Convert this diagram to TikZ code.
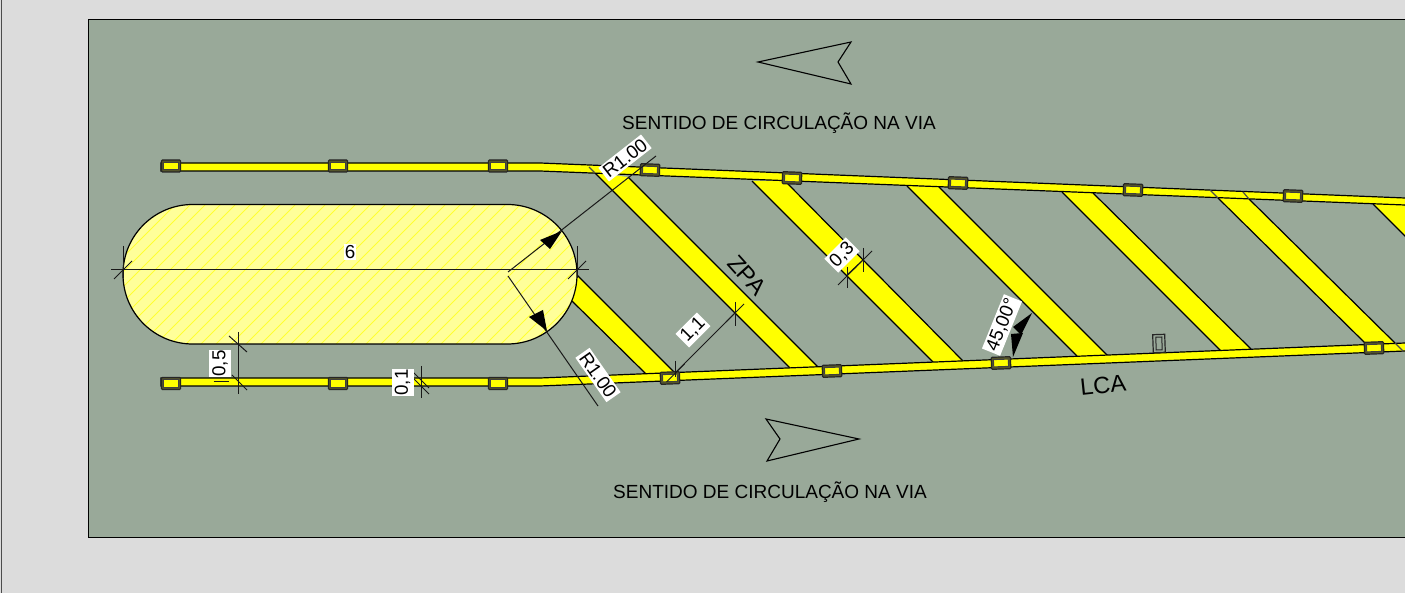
\documentclass[tikz,border=0pt]{standalone}
\usepackage{fontspec}
\setmainfont{Liberation Sans}
\definecolor{pagegray}{HTML}{DCDCDC}
\definecolor{roadgreen}{HTML}{99A999}
\definecolor{paleyellow}{HTML}{FFFF99}
\definecolor{hatchyellow}{HTML}{FFFF33}
\definecolor{pureyellow}{RGB}{255,255,0}
\definecolor{studdark}{HTML}{55552A}
\tikzset{
  dimline/.style={draw=black!90,line width=0.5pt},
  edgeline/.style={draw=black,line width=0.6pt},
  dimlabel/.style={fill=white,inner sep=1pt,font=\fontsize{9.4}{10}\selectfont,text=black},
  roadtext/.style={font=\fontsize{9.5}{11}\selectfont,text=black},
  bigtext/.style={font=\fontsize{11.8}{13}\selectfont,text=black},
  studout/.style={draw=black!85,line width=0.6pt,fill=studdark,minimum width=9.6pt,minimum height=6pt,inner sep=0pt,rounded corners=0.5pt},
  studin/.style={draw=black!75,line width=0.45pt,fill=pureyellow,minimum width=7.4pt,minimum height=3.6pt,inner sep=0pt},
  headfill/.style={fill=black,draw=none},
  outlinearrow/.style={draw=black,line width=0.55pt},
}
\newcommand{\paintstripe}[4]{%
  \fill[pureyellow] (#1) -- (#2) -- (#3) -- (#4) -- cycle;
  \draw[edgeline] (#1) -- (#4);
  \draw[edgeline] (#2) -- (#3);
}
\newcommand{\tickmark}[5]{% point, vertical half extents, slash half
  \draw[dimline] (#1,#2-#3) -- (#1,#2+#4);
  \draw[dimline] (#1-#5,#2+#5) -- (#1+#5,#2-#5);
}
\begin{document}
\begin{tikzpicture}[x=0.5pt,y=-0.5pt]
\useasboundingbox (0,0) rectangle (1405,593);
\clip (0,0) rectangle (1405,593);
\fill[pagegray] (0,0) rectangle (1405,593);
\draw[draw=black!70,line width=0.6pt] (1.2,-2) -- (1.2,595);
\draw[fill=roadgreen,draw=black,line width=0.6pt] (88.5,19.5) rectangle (1415,537.5);

% stripes
\paintstripe{577,275}{572,301}{646,374}{675,373}
\paintstripe{628,177}{595,173}{790,368}{820,369}
\paintstripe{785,181}{752,181}{933,362}{963,361}
\paintstripe{939,187}{907,186}{1077,356}{1108,356}
\paintstripe{1093,193}{1062,192}{1221,351}{1251,349}
\paintstripe{1249,199}{1218,198}{1365,343}{1395,343}
\paintstripe{1405,205}{1373,204}{1415,246}{1445,245}

% bands
\draw[edgeline,fill=pureyellow] (161,163) -- (540,163) -- (1415,198.4) -- (1415,205.4) -- (540,171) -- (161,171) -- cycle;
\draw[edgeline,fill=pureyellow] (161,378) -- (540,378) -- (1415,342.6) -- (1415,350.6) -- (540,386) -- (161,386) -- cycle;
\draw[edgeline,draw=black!70] (1210,190) -- (1218,198);
\draw[edgeline,draw=black!70] (1243,192) -- (1249,199);
\draw[edgeline,draw=black!70] (1395,343) -- (1403,351);
\draw[edgeline,draw=black!70] (595,173) -- (589,167);

% studs
\foreach \n/\px/\py/\ang in {a/171/166/0,b/338/166/0,c/498/166/0,d/650/170/-2,e/792/178/-2,f/958/183/-2,g/1133/190/-2,h/1293/196/-2,
  i/171/383.5/0,j/338/383.5/0,k/498/383.5/0,l/670/378/2,m/832/371/2,n/1001/363/2,o/1374/348/2}{
  \node[studout,rotate=\ang] (so\n) at (\px,\py) {};
  \node[studin,rotate=\ang] (si\n) at (\px,\py) {};
}
\node[draw=black!85,line width=0.6pt,minimum width=6pt,minimum height=9pt,inner sep=0pt,fill=roadgreen,rotate=2] (loosea) at (1159,343.5) {};
\node[draw=black!85,line width=0.5pt,minimum width=3pt,minimum height=6.4pt,inner sep=0pt,rotate=2] (looseb) at (1159,343.5) {};

% island
\fill[paleyellow,rounded corners=34.8pt] (123,204.5) rectangle (577,344);
\begin{scope}
  \clip[rounded corners=34.8pt] (123,204.5) rectangle (577,344);
  \foreach \hx in {0,15,...,600}{
    \draw[hatchyellow,line width=0.5pt] (\hx,350) -- (\hx+150,200);
  }
\end{scope}
\draw[edgeline,rounded corners=34.8pt] (123,204.5) rectangle (577,344);

% dimension 6
\draw[dimline] (111,270) -- (589,270);
\tickmark{123}{270}{24}{8}{9}
\tickmark{577}{270}{24}{8}{9}
\node[dimlabel,inner sep=0.5pt] (lsix) at (350,252) {6};

% radii
\draw[dimline] (508,272) -- (656,156);
\draw[dimline] (508,276) -- (598,406);
\fill[headfill] (562,231) -- (540,240) -- (550,249) -- cycle;
\fill[headfill] (547,331) -- (529,317) -- (543,310) -- cycle;
\node[dimlabel,rotate=38] (lra) at (625,158) {R1.00};
\node[dimlabel,rotate=-55] (lrb) at (598,375) {R1.00};

% 1,1
\draw[dimline] (675,373) -- (735,313);
\tickmark{735}{313}{11}{13}{9}
\tickmark{675.5}{373}{12}{4}{9}
\node[dimlabel,rotate=45] (loneone) at (693,330) {1,1};

% 0,3
\draw[dimline] (847,275) -- (863,260);
\tickmark{847}{276}{9}{12}{9}
\tickmark{863}{260}{12}{12}{9}
\node[dimlabel,rotate=45] (lthree) at (842,255) {0,3};

% 45
\fill[headfill] (1032,313) -- (1013,327) -- (1021,335) -- cycle;
\fill[headfill] (1013,357) -- (1011,334) -- (1023,333) -- cycle;
\node[dimlabel,rotate=68] (lang) at (1002,325) {45,00°};

% 0,5
\draw[dimline] (238,332) -- (238,394);
\draw[dimline] (229,336) -- (247,352);
\draw[dimline] (232,375) -- (247,390);
\node[dimlabel,rotate=90,minimum width=13.5pt,minimum height=11pt,inner sep=0pt] (lfive) at (220,363.5) {0,5};
\draw[dimline] (213.5,382) -- (228.5,382);

% 0,1
\draw[dimline] (421,366) -- (421,398);
\draw[dimline] (413,378) -- (429,394);
\draw[dimline] (413,372) -- (429,388);
\node[dimlabel,rotate=90,minimum width=13.5pt,minimum height=11pt,inner sep=0pt] (lone) at (402.5,382.5) {0,1};

% direction arrows
\draw[outlinearrow] (758,62) -- (851,42) -- (838,62) -- (851,84) -- cycle;
\draw[outlinearrow] (859,439) -- (766,419) -- (780,439) -- (767,461) -- cycle;

% texts
\node[roadtext] (topsense) at (779,123.5) {SENTIDO DE CIRCULAÇÃO NA VIA};
\node[roadtext] (botsense) at (770,492.5) {SENTIDO DE CIRCULAÇÃO NA VIA};
\node[bigtext,rotate=-48] (zpa) at (747,275) {ZPA};
\node[bigtext,rotate=6] (lca) at (1103,385) {LCA};
\end{tikzpicture}
\end{document}
